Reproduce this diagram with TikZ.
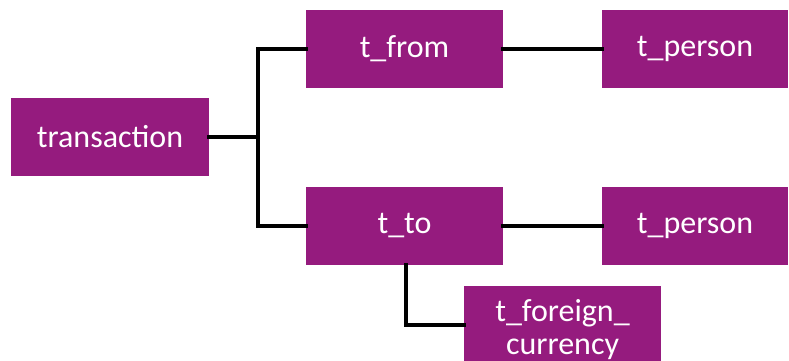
\documentclass[tikz,border=0pt]{standalone}
\usepackage{fontspec}
\setmainfont{Carlito}
\definecolor{boxpurple}{RGB}{149,27,126}
\begin{document}
\begin{tikzpicture}[x=1pt,y=-1pt,
  ent/.style={fill=boxpurple, text=white, minimum width=197pt, minimum height=78pt, inner sep=0pt, font=\fontsize{32}{33}\selectfont, align=center, anchor=center},
  conn/.style={line width=3.6pt, black, line cap=rect, line join=miter}]
\useasboundingbox (0,0) rectangle (789,360);
\clip (0,0) rectangle (789,360);
\node[ent, minimum width=198pt] (tr) at (110,137) {transaction};
\node[ent] (from) at (404.5,49) {t\_from};
\node[ent] (to) at (404.5,226) {t\_to};
\node[ent, minimum width=186pt] (p1) at (695,49) {t\_person};
\node[ent, minimum width=186pt] (p2) at (695,226) {t\_person};
\node[ent, minimum height=88pt] (fc) at (562.5,330) {t\_foreign\_\\currency};
\coordinate (j) at (258,137);
\draw[conn] (tr.east) -- (j);
\draw[conn] (from.west) -| (j) |- (to.west);
\draw[conn] (from.east) -- (p1.west);
\draw[conn] (to.east) -- (p2.west);
\draw[conn] (to.south -| 406,0) |- (fc.west |- 0,325);
\end{tikzpicture}
\end{document}
